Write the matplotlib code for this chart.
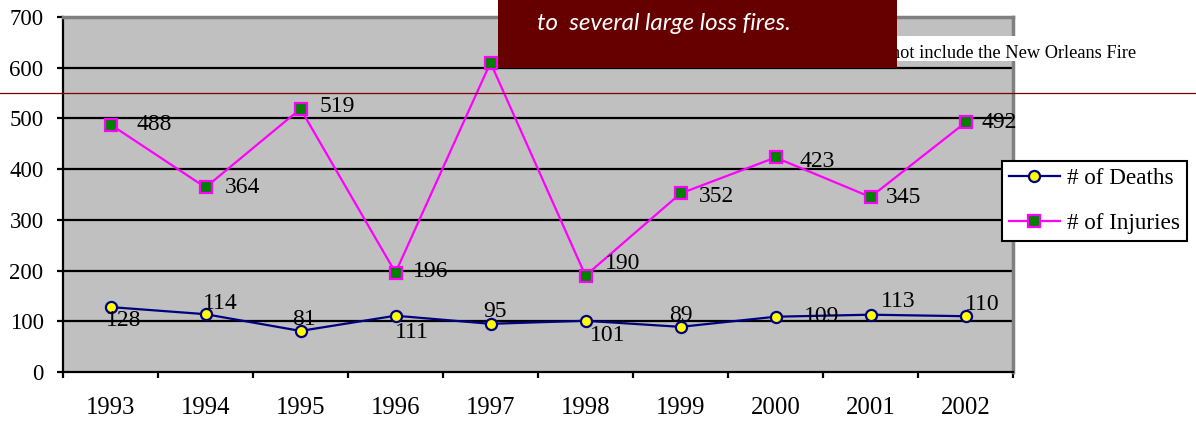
import matplotlib
matplotlib.use("Agg")
import matplotlib.pyplot as plt
from matplotlib.patches import Rectangle
from matplotlib.lines import Line2D

# chart data
years = ['1993', '1994', '1995', '1996', '1997', '1998', '1999', '2000', '2001', '2002']
deaths = [128, 114, 81, 111, 95, 101, 89, 109, 113, 110]
injuries = [488, 364, 519, 196, 610, 190, 352, 423, 345, 492]

# label offsets in pixels (dx, dy), picked by eye from the reference
death_offsets = [(13, -13), (15, 11), (3, 11), (16, -17), (5, 12),
                 (22, -15), (0, 11), (46, 0), (28, 13), (17, 12)]
injury_offsets = [(44, 0), (37, 0), (37, 2), (35, 1), (37, 0),
                  (37, 12), (36, -3), (42, -4), (33, 0), (34, 0)]

plt.rcParams['font.family'] = ['Liberation Serif', 'DejaVu Serif']

W, H = 1196, 421
fig = plt.figure(figsize=(W / 100, H / 100), dpi=100)
ax = fig.add_axes([63 / W, 1 - 372 / H, (1013 - 63) / W, (372 - 17) / H])
ax.set_facecolor('#C0C0C0')

x = list(range(len(years)))

# gridlines
for v in range(100, 700, 100):
    ax.axhline(v, color='black', lw=1.6, zorder=1)

ax.plot(x, deaths, color='#000080', lw=1.6, marker='o', ms=8,
        mfc='#FFFF00', mec='#000080', mew=1.6, label='# of Deaths', zorder=3)
ax.plot(x, injuries, color='#FF00FF', lw=1.6, marker='s', ms=8,
        mfc='#008000', mec='#FF00FF', mew=1.6, label='# of Injuries', zorder=3)

for i in x:
    ax.annotate(str(deaths[i]), (i, deaths[i]), xytext=death_offsets[i],
                textcoords='offset pixels', ha='center', va='center',
                fontsize=17, annotation_clip=False, zorder=4)
    ax.annotate(str(injuries[i]), (i, injuries[i]), xytext=injury_offsets[i],
                textcoords='offset pixels', ha='center', va='center',
                fontsize=17, annotation_clip=False, zorder=4)

ax.set_xlim(-0.5, len(years) - 0.5)
ax.set_ylim(0, 700)
ax.set_yticks(range(0, 701, 100))
ax.tick_params(axis='y', labelsize=16.5, length=4.5, width=1.6, pad=9.5)

# ticks between the categories, labels on the categories
ax.set_xticks([i - 0.5 for i in range(len(years) + 1)])
ax.set_xticklabels([])
ax.set_xticks(x, minor=True)
ax.set_xticklabels(years, minor=True)
ax.tick_params(axis='x', which='major', length=4.5, width=1.6)
ax.tick_params(axis='x', which='minor', length=0, labelsize=17.8, pad=18)

for side in ['left', 'bottom']:
    ax.spines[side].set_color('black')
    ax.spines[side].set_linewidth(1.6)
for side in ['top', 'right']:
    ax.spines[side].set_color('#808080')
    ax.spines[side].set_linewidth(2.5)

leg = ax.legend(loc='upper left', bbox_to_anchor=(1002 / W, 1 - 161 / H),
                bbox_transform=fig.transFigure, borderaxespad=0, fontsize=16.7,
                fancybox=False, framealpha=1, edgecolor='black',
                handlelength=2.2, handletextpad=0.3, labelspacing=1.0,
                borderpad=0.3)
leg.get_frame().set_linewidth(1.5)

# overlapping slide elements
fig.patches.append(Rectangle((860 / W, 1 - 61 / H), 170 / W, 25 / H,
                             transform=fig.transFigure, facecolor='white',
                             edgecolor='none', zorder=5))
fig.text(891 / W, 1 - 53 / H, 'not include the New Orleans Fire',
         fontsize=13.2, va='center', ha='left', zorder=6)
fig.patches.append(Rectangle((498 / W, 1 - 68 / H), 399 / W, 68 / H,
                             transform=fig.transFigure, facecolor='#660000',
                             edgecolor='none', zorder=7))
fig.text(537 / W, 1 - 23 / H, 'to  several large loss fires.', color='white',
         family='Lato', style='italic', fontsize=17.4, va='center', ha='left',
         zorder=8)
fig.lines.append(Line2D([0, 1], [1 - 93 / H, 1 - 93 / H], transform=fig.transFigure,
                        color='#800000', lw=0.9, zorder=9))

fig.savefig('out.png', dpi=100)
